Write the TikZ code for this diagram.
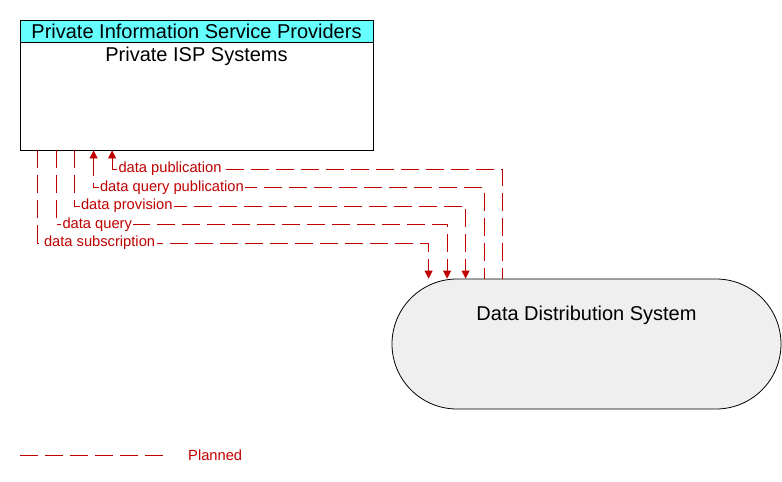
\documentclass[tikz,border=0pt]{standalone}
\usepackage{fontspec}
\setmainfont{Liberation Sans}
\usetikzlibrary{arrows.meta}
\definecolor{flowred}{RGB}{192,0,0}
\definecolor{hdrcyan}{RGB}{102,255,255}
\definecolor{ddsgray}{RGB}{239,239,239}
\begin{document}
\begin{tikzpicture}[x=1pt, y=-1pt, >={Triangle[width=8pt,length=8pt]}]
        \tikzset{elem/.style={draw, line width=0.8pt, minimum width=353pt, inner sep=0pt},
                 flow/.style={draw=flowred, line width=0.8pt, dash pattern=on 18pt off 7pt},
                 lbl/.style={text=flowred, fill=white, inner sep=1.5pt, anchor=west, xshift=4.5pt, font=\fontsize{14.7}{17}\selectfont}}
        \useasboundingbox (0,0) rectangle (782,482);
        \node[elem, minimum height=130pt] (isp) at (196.5,85) {};
        \node[elem, minimum height=22pt, fill=hdrcyan, anchor=north] (isphdr) at (isp.north) {\fontsize{20}{24}\selectfont Private Information Service Providers};
        \node[anchor=north, inner sep=0pt] (ispname) at ([yshift=-4pt]isphdr.south) {\fontsize{20}{24}\selectfont Private ISP Systems};
        \node[draw, line width=0.8pt, fill=ddsgray, rounded corners=65pt, minimum width=389pt, minimum height=130pt] (dds) at (586.5,344) {};
        \node (ddsname) at ([yshift=-37pt]dds.north) {\fontsize{20}{24}\selectfont Data Distribution System};
        % flows
        \draw[flow, <-] ([xshift=92.5pt]isp.south west) -- ++(0,18.5) node[lbl] {data publication} -| ([xshift=111pt]dds.north west);
        \draw[flow, <-] ([xshift=74pt]isp.south west) -- ++(0,37) node[lbl] {data query publication} -| ([xshift=92.5pt]dds.north west);
        \draw[flow, ->] ([xshift=55pt]isp.south west) -- ++(0,55.5) node[lbl] {data provision} -| ([xshift=74pt]dds.north west);
        \draw[flow, ->] ([xshift=36.5pt]isp.south west) -- ++(0,74) node[lbl] {data query} -| ([xshift=55.5pt]dds.north west);
        \draw[flow, ->] ([xshift=18pt]isp.south west) -- ++(0,92.5) node[lbl] {data subscription} -| ([xshift=37pt]dds.north west);
        % legend
        \coordinate (legA) at (20,455);
        \coordinate (legB) at (167,455);
        \draw[flow] (legA) -- (legB);
        \node[lbl, xshift=0pt, fill=none] (legtext) at (182,455) {Planned};
    \end{tikzpicture}
\end{document}
